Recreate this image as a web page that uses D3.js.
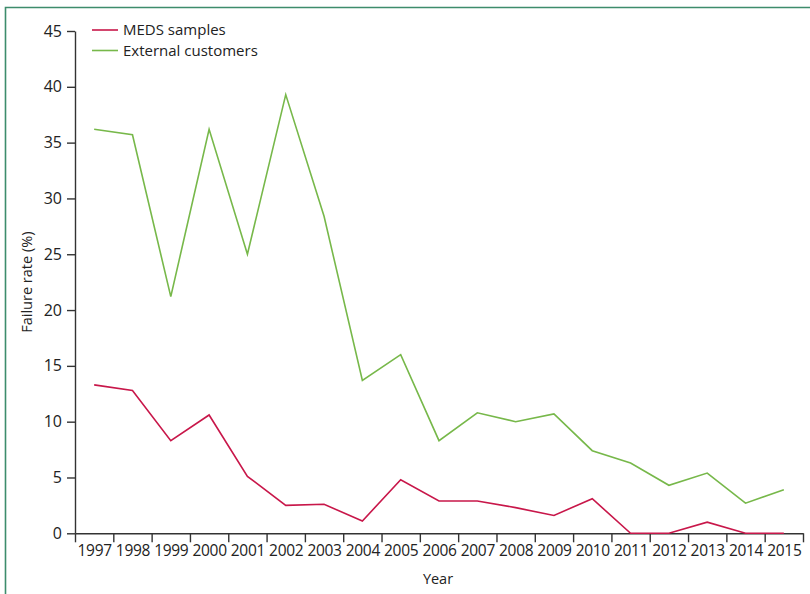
<!DOCTYPE html>
<html>
<head>
<meta charset="utf-8">
<script src="https://cdn.jsdelivr.net/npm/d3@7"></script>
<style>
  body { margin: 0; background: #fff; }
  text { font-family: "Open Sans", sans-serif; fill: #222; }
</style>
</head>
<body>
<div id="chart"></div>
<script>
var years = [1997, 1998, 1999, 2000, 2001, 2002, 2003, 2004, 2005, 2006,
             2007, 2008, 2009, 2010, 2011, 2012, 2013, 2014, 2015];
var medsSamples = [13.3, 12.8, 8.3, 10.6, 5.1, 2.5, 2.6, 1.1, 4.8, 2.9,
                   2.9, 2.3, 1.6, 3.1, 0, 0, 1.0, 0, 0];
var externalCustomers = [36.2, 35.7, 21.2, 36.2, 25.0, 39.3, 28.4, 13.7, 16.0, 8.3,
                         10.8, 10.0, 10.7, 7.4, 6.3, 4.3, 5.4, 2.7, 3.9];
var yTicks = [0, 5, 10, 15, 20, 25, 30, 35, 40, 45];
var seriesNames = ['MEDS samples', 'External customers'];
var seriesColors = ['#c8174a', '#77b84a'];

var width = 810, height = 594;
var margin = { left: 75, right: 7, top: 31, bottom: 61 };

var svg = d3.select('#chart')
    .append('svg')
    .attr('width', width)
    .attr('height', height);

// frame
svg.append('path')
    .attr('d', 'M5.5,' + height + 'V7.5H' + width)
    .attr('fill', 'none')
    .attr('stroke', '#3d8c6c')
    .attr('stroke-width', 1.6);

var xScale = d3.scaleLinear()
    .domain([years[0] - 0.5, years[years.length - 1] + 0.5])
    .range([margin.left, width - margin.right]);
var yScale = d3.scaleLinear()
    .domain([0, 45])
    .range([height - margin.bottom + 0.3, margin.top]);

// x axis: tick marks at year boundaries, labels in between
var bounds = years.map(d => d - 0.5).concat([years[years.length - 1] + 0.5]);
var xAxisG = svg.append('g')
    .attr('transform', 'translate(0,' + yScale(0) + ')');
xAxisG.append('g')
    .call(d3.axisBottom(xScale).tickValues(bounds).tickSize(9).tickSizeOuter(0).tickFormat(''))
    .call(g => g.selectAll('line, path').attr('stroke', '#333').attr('stroke-width', 1.4));
xAxisG.append('g')
    .call(d3.axisBottom(xScale).tickValues(years).tickSize(0).tickPadding(12).tickFormat(d3.format('d')))
    .call(g => g.select('.domain').remove())
    .call(g => g.selectAll('text').style('font-size', '15.5px').attr('fill', '#222')
        .attr('letter-spacing', '-0.3px'));

// y axis
svg.append('g')
    .attr('transform', 'translate(' + margin.left + ',0)')
    .call(d3.axisLeft(yScale).tickValues(yTicks).tickSize(8).tickPadding(5).tickSizeOuter(0))
    .call(g => g.selectAll('line, path').attr('stroke', '#333').attr('stroke-width', 1.4))
    .call(g => g.selectAll('text').style('font-size', '16px').attr('fill', '#222'));

// axis titles
svg.append('text')
    .attr('transform', 'translate(32,' + ((yScale(0) + yScale(45)) / 2) + ') rotate(-90)')
    .attr('text-anchor', 'middle')
    .style('font-size', '14.5px')
    .text('Failure rate (%)');
svg.append('text')
    .attr('x', 438)
    .attr('y', 584)
    .attr('text-anchor', 'middle')
    .style('font-size', '14.5px')
    .text('Year');

// lines
var line = d3.line()
    .x((d, i) => xScale(years[i]))
    .y(d => yScale(d));

[medsSamples, externalCustomers].forEach(function (values, k) {
    svg.append('path')
        .datum(values)
        .attr('d', line)
        .attr('fill', 'none')
        .attr('stroke', seriesColors[k])
        .attr('stroke-width', 1.6)
        .attr('stroke-linejoin', 'miter');
});

// legend
var legend = svg.selectAll('.legend')
    .data(seriesNames)
    .enter()
    .append('g')
    .attr('class', 'legend')
    .attr('transform', (d, i) => 'translate(92,' + (30 + i * 20.5) + ')');
legend.append('line')
    .attr('x1', 0).attr('x2', 26)
    .attr('stroke', (d, i) => seriesColors[i])
    .attr('stroke-width', 1.6);
legend.append('text')
    .attr('x', 31)
    .attr('dy', '0.35em')
    .style('font-size', '15px')
    .text(d => d);
</script>
</body>
</html>
